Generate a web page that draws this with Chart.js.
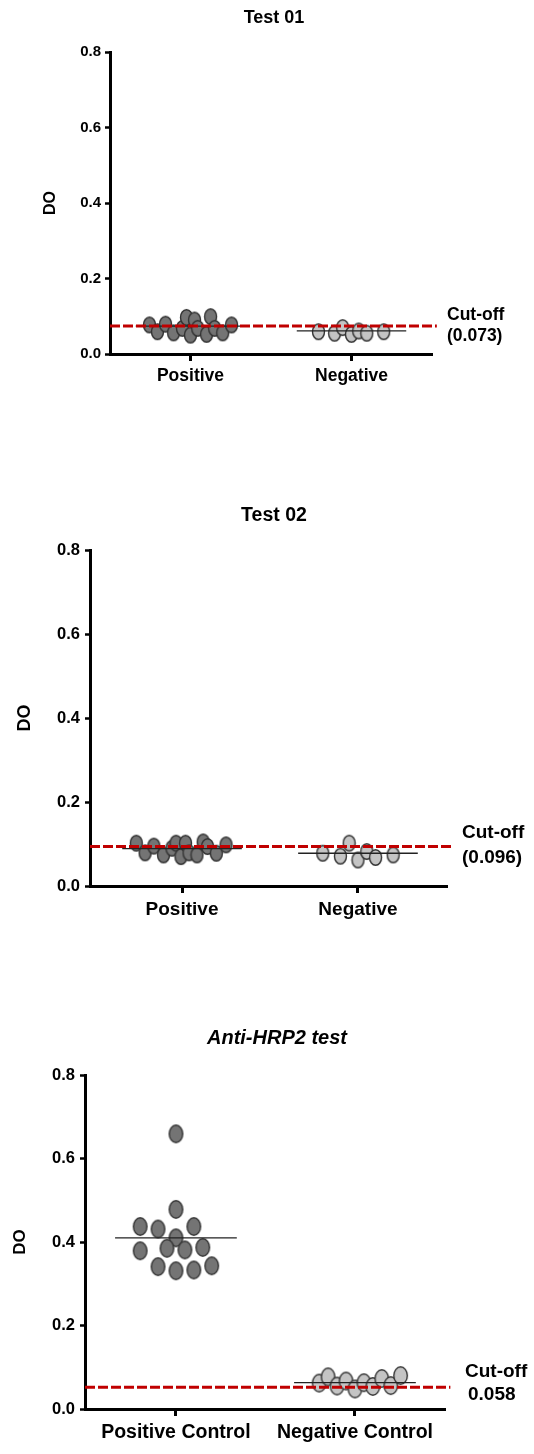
<!DOCTYPE html>
<html>
<head>
<meta charset="utf-8">
<script src="https://cdn.jsdelivr.net/npm/chart.js@4/dist/chart.umd.min.js"></script>
<style>
  html, body { margin: 0; padding: 0; background: #fff; }
  body { width: 534px; height: 1454px; position: relative; overflow: hidden; }
  canvas { position: absolute; left: 0; }
</style>
</head>
<body>
<canvas id="c1" width="534" height="400" style="top:0px"></canvas>
<canvas id="c2" width="534" height="440" style="top:490px"></canvas>
<canvas id="c3" width="534" height="444" style="top:1010px"></canvas>
<script>
// ---- data ----
// Test 01
const t1Groups = ['Positive', 'Negative'];
const t1Pos = [0.077, 0.059, 0.079, 0.056, 0.068, 0.097, 0.050, 0.090, 0.068, 0.052, 0.099, 0.068, 0.056, 0.077];
const t1PosJit = [-0.255, -0.205, -0.155, -0.105, -0.05, -0.025, 0, 0.025, 0.045, 0.10, 0.125, 0.15, 0.20, 0.255];
const t1Neg = [0.059, 0.055, 0.070, 0.052, 0.061, 0.055, 0.059];
const t1NegJit = [-0.205, -0.105, -0.055, 0, 0.045, 0.095, 0.2];
const t1Means = [0.074, 0.061];
const t1Cut = 0.074;
const t1CutText = ['Cut-off', '(0.073)'];

// Test 02
const t2Groups = ['Positive', 'Negative'];
const t2Pos = [0.102, 0.079, 0.095, 0.074, 0.090, 0.102, 0.070, 0.102, 0.079, 0.074, 0.105, 0.094, 0.078, 0.098];
const t2PosJit = [-0.26, -0.21, -0.16, -0.105, -0.057, -0.034, -0.006, 0.02, 0.04, 0.085, 0.12, 0.145, 0.195, 0.25];
const t2Neg = [0.078, 0.071, 0.102, 0.062, 0.082, 0.068, 0.074];
const t2NegJit = [-0.2, -0.1, -0.05, 0, 0.05, 0.1, 0.2];
const t2Means = [0.089, 0.078];
const t2Cut = 0.094;
const t2CutText = ['Cut-off', '(0.096)'];

// Anti-HRP2 test
const t3Groups = ['Positive Control', 'Negative Control'];
const t3Pos = [0.659, 0.478, 0.437, 0.431, 0.437, 0.410, 0.379, 0.385, 0.381, 0.387, 0.341, 0.331, 0.333, 0.343];
const t3PosJit = [0, 0, -0.2, -0.1, 0.1, 0, -0.2, -0.05, 0.05, 0.15, -0.1, 0, 0.1, 0.2];
const t3Neg = [0.062, 0.077, 0.055, 0.067, 0.048, 0.063, 0.054, 0.073, 0.056, 0.080];
const t3NegJit = [-0.2, -0.15, -0.1, -0.05, 0, 0.05, 0.1, 0.15, 0.2, 0.255];
const t3Means = [0.410, 0.063];
const t3Cut = 0.052;
const t3CutText = ['Cut-off', '0.058'];

const yTicks = [0, 0.2, 0.4, 0.6, 0.8];

const FAMILY = '"Liberation Sans", Arial, Helvetica, sans-serif';

// oval markers like the original
function makeDot(fill, w, h) {
  const c = document.createElement('canvas');
  c.width = Math.ceil(w + 3);
  c.height = Math.ceil(h + 3);
  const g = c.getContext('2d');
  g.beginPath();
  g.ellipse(c.width / 2, c.height / 2, w / 2, h / 2, 0, 0, Math.PI * 2);
  g.fillStyle = fill;
  g.fill();
  g.lineWidth = 1.4;
  g.strokeStyle = '#333';
  g.stroke();
  return c;
}

// title + cut-off label
const panelText = {
  id: 'panelText',
  afterDraw(chart, args, o) {
    const ctx = chart.ctx;
    const yc = chart.scales.y.getPixelForValue(o.cut);
    ctx.save();
    ctx.fillStyle = '#000';
    ctx.textBaseline = 'middle';
    ctx.textAlign = 'center';
    ctx.font = o.titleFont;
    ctx.fillText(o.title, o.titleX, o.titleY);
    ctx.textAlign = 'left';
    ctx.font = 'bold ' + o.cutSize + 'px ' + FAMILY;
    o.cutText.forEach((t, i) => ctx.fillText(t, o.cutX[i], yc + o.cutDy[i]));
    ctx.restore();
  }
};

function jittered(vals, jit, center) {
  return vals.map((v, i) => ({ x: center + jit[i], y: v }));
}

function makePanel(id, p) {
  const darkDot = makeDot('#747474', p.dotW, p.dotH);
  const lightDot = makeDot('#c4c4c4', p.dotW, p.dotH);
  const half = 0.34;
  new Chart(document.getElementById(id), {
    type: 'scatter',
    data: {
      datasets: [
        {
          data: [{ x: p.xMin, y: p.cut }, { x: p.xMax + 0.03, y: p.cut }],
          showLine: true, borderColor: '#c00000', borderWidth: 3, borderDash: [10, 3],
          pointRadius: 0, clip: false
        },
        {
          data: [{ x: 1 - half, y: p.means[0] }, { x: 1 + half, y: p.means[0] }],
          showLine: true, borderColor: '#222', borderWidth: 1.3, pointRadius: 0
        },
        {
          data: [{ x: 2 - half, y: p.means[1] }, { x: 2 + half, y: p.means[1] }],
          showLine: true, borderColor: '#222', borderWidth: 1.3, pointRadius: 0
        },
        {
          data: jittered(p.neg, p.negJit, 2),
          pointStyle: lightDot, pointRadius: 6
        },
        {
          data: jittered(p.pos, p.posJit, 1),
          pointStyle: darkDot, pointRadius: 6
        }
      ]
    },
    options: {
      responsive: false,
      animation: false,
      events: [],
      layout: { padding: { top: p.top, left: 0, right: 534 - p.right, bottom: p.bottomPad } },
      plugins: {
        legend: { display: false },
        tooltip: { enabled: false },
        panelText: {
          title: p.title, titleFont: p.titleFont, titleX: p.titleX, titleY: p.titleY,
          cut: p.cut, cutText: p.cutText, cutSize: p.cutSize, cutX: p.cutX, cutDy: p.cutDy
        }
      },
      scales: {
        x: {
          type: 'linear', min: p.xMin, max: p.xMax,
          afterBuildTicks: s => { s.ticks = [{ value: 1 }, { value: 2 }]; },
          afterFit: s => { s.height = 40; },
          ticks: {
            callback: v => p.groups[v - 1],
            autoSkip: false, maxRotation: 0, padding: 5, color: '#000',
            font: { family: FAMILY, size: p.xFont, weight: 'bold' }
          },
          grid: { drawOnChartArea: false, tickLength: 7, tickWidth: 3, tickColor: '#000' },
          border: { color: '#000', width: 3 }
        },
        y: {
          min: 0, max: 0.8,
          afterBuildTicks: s => { s.ticks = yTicks.map(v => ({ value: v })); },
          afterFit: s => { s.width = p.left; },
          ticks: {
            callback: v => v.toFixed(1), padding: p.yPad, color: '#000',
            font: { family: FAMILY, size: p.yFont, weight: 'bold' }
          },
          grid: { drawOnChartArea: false, tickLength: 5, tickWidth: 2.5, tickColor: '#000' },
          border: { color: '#000', width: 3 },
          title: {
            display: true, text: 'DO', color: '#000',
            font: { family: FAMILY, size: p.doFont, weight: 'bold' },
            padding: { top: p.doPad, bottom: 0 }
          }
        }
      }
    },
    plugins: [panelText]
  });
}

makePanel('c1', {
  groups: t1Groups, pos: t1Pos, posJit: t1PosJit, neg: t1Neg, negJit: t1NegJit,
  means: t1Means, cut: t1Cut, cutText: t1CutText,
  left: 110, right: 432, top: 52, bottomPad: 400 - 354 - 40,
  xMin: 0.5, xMax: 2.5, dotW: 12, dotH: 15.5,
  xFont: 17.5, yFont: 15, yPad: 4, doFont: 16, doPad: 41,
  title: 'Test 01', titleFont: 'bold 18px ' + FAMILY, titleX: 274, titleY: 18,
  cutSize: 17.5, cutX: [447, 447], cutDy: [-11, 10]
});

makePanel('c2', {
  groups: t2Groups, pos: t2Pos, posJit: t2PosJit, neg: t2Neg, negJit: t2NegJit,
  means: t2Means, cut: t2Cut, cutText: t2CutText,
  left: 90, right: 447, top: 60, bottomPad: 440 - 396 - 40,
  xMin: 0.477, xMax: 2.506, dotW: 12, dotH: 15.5,
  xFont: 19, yFont: 16.5, yPad: 5, doFont: 18, doPad: 14,
  title: 'Test 02', titleFont: 'bold 19.5px ' + FAMILY, titleX: 274, titleY: 26,
  cutSize: 19, cutX: [462, 462], cutDy: [-13.5, 11]
});

makePanel('c3', {
  groups: t3Groups, pos: t3Pos, posJit: t3PosJit, neg: t3Neg, negJit: t3NegJit,
  means: t3Means, cut: t3Cut, cutText: t3CutText,
  left: 85, right: 445, top: 65, bottomPad: 444 - 399 - 40,
  xMin: 0.492, xMax: 2.503, dotW: 13.5, dotH: 17.5,
  xFont: 19.5, yFont: 16.5, yPad: 5, doFont: 17, doPad: 10,
  title: 'Anti-HRP2 test', titleFont: 'italic bold 20px ' + FAMILY, titleX: 277, titleY: 28,
  cutSize: 19, cutX: [465, 468], cutDy: [-15.5, 7]
});
</script>
</body>
</html>
